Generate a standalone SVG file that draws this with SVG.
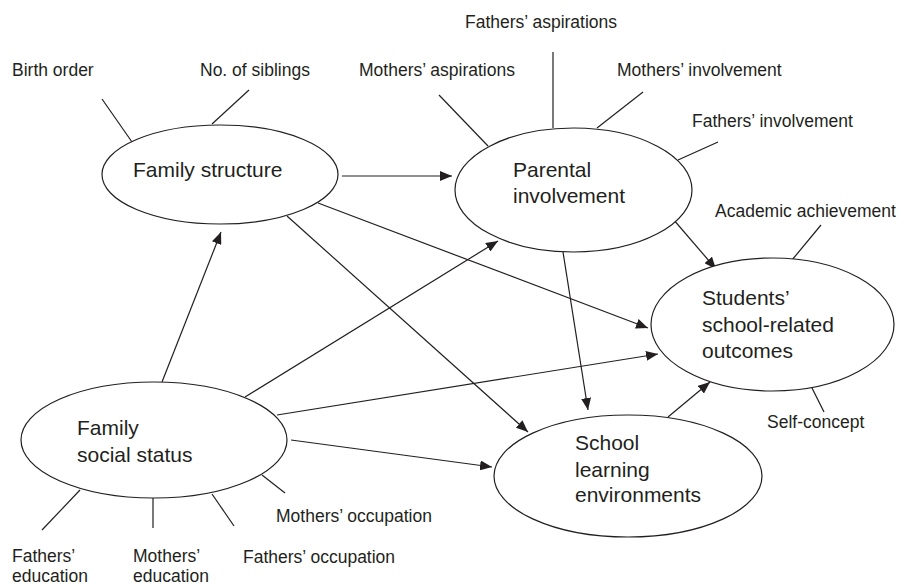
<svg xmlns="http://www.w3.org/2000/svg" width="907" height="585" viewBox="0 0 907 585">
<style>
.n{fill:#fff;stroke:#231f20;stroke-width:1.2}
.t{font-family:"Liberation Sans",Arial,sans-serif;font-size:21px;fill:#231f20}
.s{font-family:"Liberation Sans",Arial,sans-serif;font-size:17.5px;fill:#231f20}
.c line{stroke:#231f20;stroke-width:1.2}
.a line{stroke:#231f20;stroke-width:1.2;marker-end:url(#ah)}
</style>
<defs>
<marker id="ah" markerUnits="userSpaceOnUse" markerWidth="12" markerHeight="10" viewBox="0 0 12 10" refX="12" refY="5" orient="auto">
<path d="M0,0 L12,5 L0,10 Z" fill="#231f20"/>
</marker>
</defs>
<rect width="907" height="585" fill="#fff"/>
<g id="connectors">
<g class="c">
<line x1="102" y1="99" x2="132" y2="142"/>
<line x1="249" y1="90" x2="212" y2="124"/>
<line x1="439" y1="95" x2="488" y2="146"/>
<line x1="553" y1="52" x2="553" y2="128"/>
<line x1="643" y1="92" x2="597" y2="128"/>
<line x1="718" y1="142" x2="678" y2="160"/>
<line x1="821" y1="225" x2="792" y2="260"/>
<line x1="812" y1="388" x2="824" y2="412"/>
<line x1="285" y1="493" x2="262" y2="475"/>
<line x1="212" y1="494" x2="234" y2="526"/>
<line x1="153" y1="498" x2="153" y2="528"/>
<line x1="80" y1="490" x2="42" y2="530"/>
</g>
<g class="a">
<line x1="342" y1="176" x2="452" y2="176"/>
<line x1="162" y1="382" x2="221" y2="232"/>
<line x1="245" y1="397" x2="498" y2="241"/>
<line x1="291" y1="440" x2="492" y2="467"/>
<line x1="277" y1="415" x2="658" y2="354"/>
<line x1="318" y1="203" x2="648" y2="328"/>
<line x1="287" y1="216" x2="528" y2="432"/>
<line x1="563" y1="252" x2="588" y2="410"/>
<line x1="673" y1="219" x2="716" y2="269"/>
<line x1="668" y1="417" x2="710" y2="382"/>
</g>
</g>
<g id="family-structure">
<ellipse class="n" cx="220" cy="174.5" rx="118" ry="49.5"/>
<text class="t" x="133" y="177">Family structure</text>
</g>
<g id="parental-involvement">
<ellipse class="n" cx="573.5" cy="190" rx="118.5" ry="62"/>
<text class="t" x="513" y="177">Parental</text>
<text class="t" x="513" y="203">involvement</text>
</g>
<g id="students-outcomes">
<ellipse class="n" cx="772.5" cy="324.5" rx="121.5" ry="66.5"/>
<text class="t" x="702" y="305">Students’</text>
<text class="t" x="702" y="332">school-related</text>
<text class="t" x="702" y="358">outcomes</text>
</g>
<g id="family-social-status">
<ellipse class="n" cx="154" cy="440" rx="133" ry="58"/>
<text class="t" x="77" y="435">Family</text>
<text class="t" x="77" y="462">social status</text>
</g>
<g id="school-learning">
<ellipse class="n" cx="628" cy="476" rx="134" ry="61"/>
<text class="t" x="575" y="450">School</text>
<text class="t" x="575" y="477">learning</text>
<text class="t" x="575" y="502">environments</text>
</g>
<g id="labels">
<text class="s" x="12" y="76">Birth order</text>
<text class="s" x="200" y="76">No. of siblings</text>
<text class="s" x="359" y="76">Mothers’ aspirations</text>
<text class="s" x="465" y="28">Fathers’ aspirations</text>
<text class="s" x="617" y="76">Mothers’ involvement</text>
<text class="s" x="692" y="127">Fathers’ involvement</text>
<text class="s" x="715" y="217">Academic achievement</text>
<text class="s" x="767" y="428">Self-concept</text>
<text class="s" x="276" y="522">Mothers’ occupation</text>
<text class="s" x="243" y="563">Fathers’ occupation</text>
<text class="s" x="133" y="562"><tspan x="133">Mothers’</tspan><tspan x="133" dy="20">education</tspan></text>
<text class="s" x="12" y="562"><tspan x="12">Fathers’</tspan><tspan x="12" dy="20">education</tspan></text>
</g>
</svg>
